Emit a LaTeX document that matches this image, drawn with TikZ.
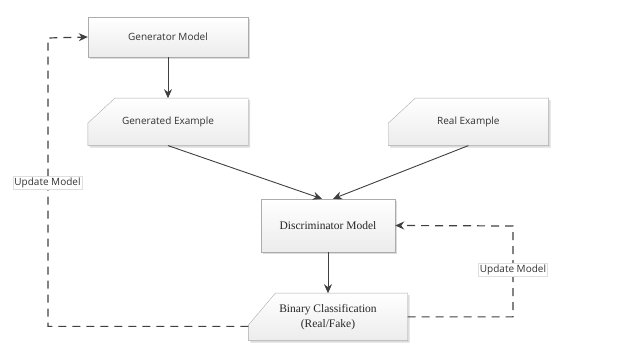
\documentclass[tikz,border=0pt]{standalone}
\usepackage{fontspec}
\setmainfont{Liberation Serif}
\newfontfamily\uisans{Open Sans}
\usetikzlibrary{positioning,calc,arrows.meta,shadows,backgrounds}

% outline of a box with its top left corner cut off
\newcommand\cutcorner[2]{(#1.south west) -- ($(#1.north west)+(0,#2)$) -- ($(#1.north west)+(27,0)$) -- (#1.north east) -- (#1.south east) -- cycle}

\begin{document}
\begin{tikzpicture}[x=1pt, y=-1pt, node distance={41pt},
  >={Stealth[length=9pt,width=8pt]},
  boxfill/.style = {draw=gray!65, top color=white, bottom color=gray!15,
    drop shadow={shadow xshift=2pt, shadow yshift=-2pt, fill=gray!55}},
  box/.style = {boxfill, rectangle, minimum width=160pt, minimum height=47pt,
    inner sep=2pt, align=center},
  card/.style = {rectangle, minimum width=160pt, minimum height=47pt,
    inner sep=2pt, align=center},
  sanslbl/.style = {font=\uisans\fontsize{10}{12}\selectfont, text=black!80},
  seriflbl/.style = {font=\fontsize{11.5}{15}\selectfont, text=black!85},
  link/.style = {draw=gray!50!black, line width=0.9pt, ->},
  feedback/.style = {draw=gray!50!black, line width=1.2pt, dash pattern=on 8pt off 6pt, ->},
  tag/.style = {sanslbl, fill=white, draw=gray!25, inner sep=1.5pt}]

\useasboundingbox (0,0) rectangle (625,344);

\node[box, sanslbl, minimum height=40pt] (gen) at (168,37) {Generator Model};
\node[card, sanslbl] (gex) [below=of gen] {Generated Example};
\node[card, sanslbl] (rex) [right=140pt of gex] {Real Example};
\node[box, seriflbl, minimum width=134pt, minimum height=53pt] (disc) at (328,225.5) {Discriminator Model};
\node[card, seriflbl, minimum width=159pt] (bin) [below=of disc] {Binary Classification\\(Real/Fake)};

\begin{scope}[on background layer]
\path[boxfill] \cutcorner{gex}{25};
\path[boxfill] \cutcorner{rex}{25};
\path[boxfill] \cutcorner{bin}{32};
\end{scope}

\coordinate (lbend) at (48,38);
\coordinate (rbend) at (513,226);

\draw[link] (gen) -- (gex);
\draw[link] (gex.south) -- ($(disc.north)+(-6,0)$);
\draw[link] (rex.south) -- ($(disc.north)+(5,0)$);
\draw[link] (disc) -- (bin);

\draw[feedback] ($(bin.west)+(0,9.5)$) -| (lbend) -- (gen.west);
\draw[feedback] (bin.east) -| (rbend) -- (disc.east);

\node[tag] (lupd) at (47.5,183) {Update Model};
\node[tag] (rupd) at (513,270) {Update Model};

\end{tikzpicture}
\end{document}
